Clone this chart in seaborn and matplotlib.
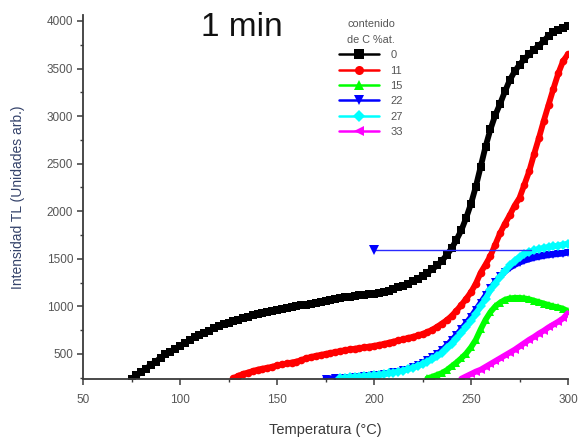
import numpy as np
import pandas as pd
import matplotlib
matplotlib.use("Agg")
import matplotlib.pyplot as plt
from matplotlib.lines import Line2D
from matplotlib.ticker import MultipleLocator
import seaborn as sns

# Thermoluminescence glow curves, 1 min exposure, by carbon content (% at.)
temp_0 = [75, 77.5, 80, 82.5, 85, 87.5, 90, 92.5, 95, 97.5, 100, 102.5, 105, 107.5,
          110, 112.5, 115, 117.5, 120, 122.5, 125, 127.5, 130, 132.5, 135, 137.5,
          140, 142.5, 145, 147.5, 150, 152.5, 155, 157.5, 160, 162.5, 165, 167.5,
          170, 172.5, 175, 177.5, 180, 182.5, 185, 187.5, 190, 192.5, 195, 197.5,
          200, 202.5, 205, 207.5, 210, 212.5, 215, 217.5, 220, 222.5, 225, 227.5,
          230, 232.5, 235, 237.5, 240, 242.5, 245, 247.5, 250, 252.5, 255, 257.5,
          260, 262.5, 265, 267.5, 270, 272.5, 275, 277.5, 280, 282.5, 285, 287.5,
          290, 292.5, 295, 297.5, 300]
tl_0 = [240, 275, 310, 345, 385, 420, 460, 495, 525, 555, 585, 615, 645, 675,
        700, 725, 745, 770, 790, 810, 830, 845, 860, 875, 890, 905,
        920, 935, 945, 955, 965, 975, 985, 990, 1000, 1010, 1020, 1030,
        1040, 1050, 1060, 1065, 1075, 1085, 1095, 1100, 1110, 1120, 1125, 1130,
        1135, 1140, 1150, 1165, 1180, 1200, 1215, 1240, 1265, 1290, 1320, 1355,
        1390, 1430, 1480, 1540, 1610, 1700, 1800, 1930, 2080, 2260, 2470, 2680,
        2860, 3010, 3130, 3260, 3380, 3470, 3540, 3600, 3650, 3700, 3740, 3790,
        3845, 3880, 3905, 3930, 3950]

temp_11 = [127.5, 130, 132.5, 135, 137.5, 140, 142.5, 145, 147.5, 150, 152.5, 155,
           157.5, 160, 162.5, 165, 167.5, 170, 172.5, 175, 177.5, 180, 182.5, 185,
           187.5, 190, 192.5, 195, 197.5, 200, 202.5, 205, 207.5, 210, 212.5, 215,
           217.5, 220, 222.5, 225, 227.5, 230, 232.5, 235, 237.5, 240, 242.5, 245,
           247.5, 250, 252.5, 255, 257.5, 260, 262.5, 265, 267.5, 270, 272.5, 275,
           277.5, 280, 282.5, 285, 287.5, 290, 292.5, 295, 297.5, 300]
tl_11 = [245, 270, 290, 305, 320, 335, 345, 355, 365, 380, 390, 400,
         410, 420, 435, 455, 468, 480, 490, 500, 510, 520, 530, 540,
         548, 555, 562, 570, 578, 585, 595, 605, 618, 630, 642, 655,
         668, 680, 695, 710, 730, 755, 785, 820, 855, 900, 955, 1015,
         1080, 1150, 1240, 1355, 1440, 1530, 1650, 1770, 1870, 1960, 2060, 2140,
         2280, 2420, 2600, 2770, 2950, 3120, 3290, 3450, 3580, 3650]

temp_15 = [227.5, 230, 232.5, 235, 237.5, 240, 242.5, 245, 247.5, 250, 252.5, 255,
           257.5, 260, 262.5, 265, 267.5, 270, 272.5, 275, 277.5, 280, 282.5, 285,
           287.5, 290, 292.5, 295, 297.5, 300]
tl_15 = [245, 260, 280, 300, 330, 370, 410, 455, 505, 570, 650, 760,
         860, 940, 1000, 1040, 1070, 1085, 1090, 1090, 1085, 1075, 1060, 1045,
         1030, 1015, 1000, 990, 975, 950]

temp_22 = [175, 180, 185, 190, 195, 200, 205, 210, 215, 220, 222.5, 225, 227.5,
           230, 232.5, 235, 237.5, 240, 242.5, 245, 247.5, 250, 252.5, 255, 257.5,
           260, 262.5, 265, 267.5, 270, 272.5, 275, 277.5, 280, 282.5, 285, 287.5,
           290, 292.5, 295, 297.5, 300]
tl_22 = [242, 248, 252, 258, 265, 275, 290, 310, 332, 365, 385, 410, 435,
         465, 500, 540, 590, 645, 700, 760, 825, 890, 965, 1040, 1115,
         1190, 1255, 1315, 1365, 1405, 1435, 1460, 1480, 1495, 1510, 1520, 1530,
         1538, 1545, 1550, 1555, 1565]
# stray first reading of the 22 % series, joined to a later point
temp_22_stray = [200, 281]
tl_22_stray = [1592, 1592]

temp_27 = [182.5, 185, 187.5, 190, 192.5, 195, 197.5, 200, 202.5, 205, 207.5, 210,
           212.5, 215, 217.5, 220, 222.5, 225, 227.5, 230, 232.5, 235, 237.5, 240,
           242.5, 245, 247.5, 250, 252.5, 255, 257.5, 260, 262.5, 265, 267.5, 270,
           272.5, 275, 277.5, 280, 282.5, 285, 287.5, 290, 292.5, 295, 297.5, 300]
tl_27 = [245, 250, 255, 258, 262, 266, 270, 274, 280, 288, 296, 305,
         315, 325, 340, 355, 375, 395, 420, 445, 475, 510, 560, 610,
         660, 720, 780, 845, 920, 1000, 1080, 1170, 1240, 1310, 1370, 1430,
         1480, 1520, 1550, 1570, 1590, 1605, 1615, 1625, 1630, 1640, 1650, 1660]

temp_33 = [245, 247.5, 250, 252.5, 255, 257.5, 260, 262.5, 265, 267.5, 270, 272.5,
           275, 277.5, 280, 282.5, 285, 287.5, 290, 292.5, 295, 297.5, 300]
tl_33 = [240, 265, 290, 315, 335, 365, 395, 425, 455, 485, 515, 545,
         580, 615, 650, 680, 715, 745, 780, 810, 840, 875, 930]

series_labels = ["0", "11", "15", "22", "27", "33"]
series_colors = ["#000000", "#ff0000", "#00ff00", "#0000ff", "#00ffff", "#ff00ff"]
series_markers = ["s", "o", "^", "v", "D", "<"]

temps = [temp_0, temp_11, temp_15, temp_22, temp_27, temp_33]
tls = [tl_0, tl_11, tl_15, tl_22, tl_27, tl_33]

frames = []
for lab, t, v in zip(series_labels, temps, tls):
    frames.append(pd.DataFrame({"Temperatura": t, "TL": v, "C": lab}))
df = pd.concat(frames, ignore_index=True)

sns.set_style("ticks")
plt.rcParams["font.family"] = ["Liberation Sans", "DejaVu Sans"]

fig = plt.figure(figsize=(5.79, 4.38), dpi=100)
ax = fig.add_axes([83 / 579, 1 - 379 / 438, 485 / 579, 364 / 438])

palette = dict(zip(series_labels, series_colors))
markers = dict(zip(series_labels, series_markers))

sns.lineplot(data=df, x="Temperatura", y="TL", hue="C", style="C",
             hue_order=series_labels, style_order=series_labels,
             palette=palette, markers=markers, dashes=False,
             markersize=5.5, markeredgewidth=0, linewidth=4.2,
             legend=False, ax=ax)

ax.plot(temp_22_stray, tl_22_stray, color="#2a2aff", linewidth=1.0)
ax.plot(temp_22_stray[:1], tl_22_stray[:1], linestyle="none", marker="v",
        color="#0000ff", markersize=6.5, markeredgewidth=0)

ax.set_xlim(50, 300)
ax.set_ylim(237, 4063)
ax.xaxis.set_major_locator(MultipleLocator(50))
ax.xaxis.set_minor_locator(MultipleLocator(25))
ax.set_yticks([500, 1000, 1500, 2000, 2500, 3000, 3500, 4000])
ax.yaxis.set_minor_locator(MultipleLocator(250))

for side in ["top", "right"]:
    ax.spines[side].set_visible(False)
for side in ["left", "bottom"]:
    ax.spines[side].set_color("#3a3a3a")
    ax.spines[side].set_linewidth(1.3)

ax.tick_params(axis="both", which="major", direction="out", length=4, width=1.1,
               color="#3a3a3a", labelsize=8.5, labelcolor="#555555", pad=3)
ax.tick_params(axis="x", which="major", pad=7)
ax.tick_params(axis="both", which="minor", direction="out", length=2.5, width=1.0,
               color="#3a3a3a")

ax.set_xlabel("Temperatura (°C)", fontsize=10.5, color="#3a3a3a", labelpad=12)
ax.set_ylabel("Intensidad TL (Unidades arb.)", fontsize=10, color="#34426a", labelpad=16)

fig.text(242 / 579, 1 - 27 / 438, "1 min", fontsize=24, ha="center", va="center",
         color="#111111")

handles = [Line2D([0], [0], color=c, marker=m, markersize=6.5, markeredgewidth=0,
                  linewidth=1.8)
           for c, m in zip(series_colors, series_markers)]
leg = ax.legend(handles, series_labels, title="contenido\nde C %at.",
                loc="upper left", bbox_to_anchor=(252 / 485, 1.0),
                frameon=False, fontsize=8, title_fontsize=7.8,
                handlelength=3.6, handletextpad=1.0, labelspacing=0.48,
                borderaxespad=0)
leg.get_title().set_color("#555555")
leg.get_title().set_linespacing(1.7)
for txt in leg.get_texts():
    txt.set_color("#555555")

fig.savefig("out.png", dpi=100)
